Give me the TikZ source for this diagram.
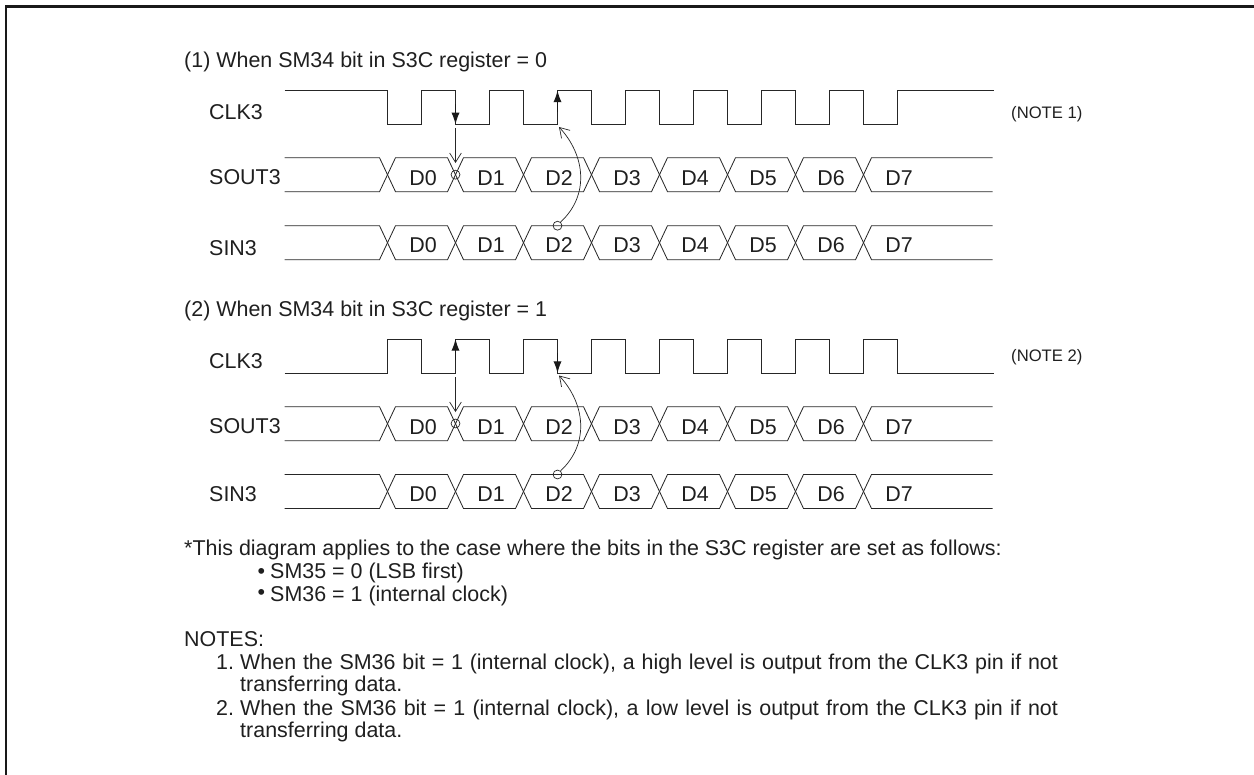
\documentclass[tikz,border=0pt]{standalone}
\usepackage{fontspec}
\setmainfont{Liberation Sans}
\usepackage{tikz}
\usetikzlibrary{arrows.meta}
\newcommand{\fitline}[1]{\makebox[24.53cm][s]{#1}}
\tikzset{
  sigline/.style={draw=black!85,line width=0.7pt},
  frameline/.style={draw=black!90,line width=2pt},
  txt/.style={anchor=base west,inner sep=0pt,text=black!88,font=\fontsize{18.3}{21}\selectfont},
  notetxt/.style={txt,font=\fontsize{14.2}{17}\selectfont},
  datatxt/.style={anchor=base,inner sep=0pt,text=black!88,font=\fontsize{18.3}{21}\selectfont},
  ring/.style={circle,draw=black!85,line width=0.6pt,inner sep=0pt,minimum size=7.6pt},
  edgetip/.style={draw=black!90,line width=1pt,-{Latex[length=10pt,width=7pt]}},
  opentip/.style={draw=black!85,line width=0.6pt,-{Straight Barb[length=8pt,width=10pt]}}
}
\begin{document}
\begin{tikzpicture}[x=0.03cm,y=-0.03cm]
\useasboundingbox (0,0) rectangle (1254,774);
\draw[frameline] (6,775) -- (6,6.5) -- (1254,6.5);
\node[txt] (headone) at (184,67.5) {(1) When SM34 bit in S3C register = 0};
\node[txt] (headtwo) at (184,316.7) {(2) When SM34 bit in S3C register = 1};
\node[txt] (clkone) at (209,119) {CLK3};
\node[txt] (soutone) at (209,184.3) {SOUT3};
\node[txt] (sinone) at (209,255) {SIN3};
\node[txt] (clktwo) at (209,368.3) {CLK3};
\node[txt] (souttwo) at (209,433.7) {SOUT3};
\node[txt] (sintwo) at (209,501) {SIN3};
\node[notetxt] (noteone) at (1011,118) {(NOTE 1)};
\node[notetxt] (notetwo) at (1011,361.7) {(NOTE 2)};
\foreach \hi/\lo/\last in {90.5/124.3/90.5,373/339/373} {
  \draw[sigline] (284.5,\hi) -- (387.5,\hi);
  \foreach \k in {0,...,7}
    \draw[sigline] (387.5+68*\k,\hi) -- (387.5+68*\k,\lo) -- (421.5+68*\k,\lo) -- (421.5+68*\k,\hi) -- (455.5+68*\k,\hi);
  \draw[sigline] (931.5,\last) -- (993.5,\last);
}
\foreach \t/\b in {157.7/185.3,225.7/252.7,406.7/434,474.5/501.7} {
  \draw[sigline] (284.5,\t) -- (379.5,\t) -- (387.5,\t+17) -- (379.5,\t+34) -- (284.5,\t+34);
  \foreach \k in {0,...,6}
    \draw[sigline] (387.5+68*\k,\t+17) -- (395.5+68*\k,\t) -- (447.5+68*\k,\t) -- (455.5+68*\k,\t+17) -- (447.5+68*\k,\t+34) -- (395.5+68*\k,\t+34) -- cycle;
  \draw[sigline] (992.5,\t) -- (871.5,\t) -- (863.5,\t+17) -- (871.5,\t+34) -- (992.5,\t+34);
  \foreach \k in {0,...,7}
    \node[datatxt] (d\k-\t) at (423+68*\k,\b) {D\k};
}
\node[ring] (xoutone) at (455.5,174.7) {};
\node[ring] (xintwo) at (557.5,225.7) {};
\node[ring] (youtone) at (455.5,423.5) {};
\node[ring] (yintwo) at (557.5,474.5) {};
\coordinate (fallone) at (455.5,104);
\coordinate (falloneend) at (455.5,124.3);
\coordinate (riseone) at (557.5,112);
\coordinate (riseoneend) at (557.5,90.5);
\coordinate (dropone) at (455.5,128);
\coordinate (droponeend) at (455.5,163);
\coordinate (captone) at (559,127);
\coordinate (risetwo) at (455.5,360);
\coordinate (risetwoend) at (455.5,339);
\coordinate (falltwo) at (557.5,352.5);
\coordinate (falltwoend) at (557.5,373);
\coordinate (droptwo) at (455.5,377);
\coordinate (droptwoend) at (455.5,412);
\coordinate (capttwo) at (559,375.5);
\draw[edgetip] (fallone) -- (falloneend);
\draw[edgetip] (riseone) -- (riseoneend);
\draw[edgetip] (risetwo) -- (risetwoend);
\draw[edgetip] (falltwo) -- (falltwoend);
\draw[opentip] (dropone) -- (droponeend);
\draw[opentip] (droptwo) -- (droptwoend);
\draw[opentip] (xintwo.50) .. controls (590,195) and (585,155) .. (captone);
\draw[opentip] (yintwo.50) .. controls (590,443.5) and (585,403.5) .. (capttwo);
\node[txt] (applies) at (184,555) {*This diagram applies to the case where the bits in the S3C register are set as follows:};
\node[txt] (dotone) at (257.5,578.3) {•};
\node[txt] (bitone) at (270,578.3) {SM35 = 0 (LSB first)};
\node[txt] (dottwo) at (257.5,599.3) {•};
\node[txt] (bittwo) at (270,601) {SM36 = 1 (internal clock)};
\node[txt] (notes) at (184,646) {NOTES:};
\node[txt] (numone) at (216,669) {1.};
\node[txt] (lineone) at (240,669) {\fitline{When the SM36 bit = 1 (internal clock), a high level is output from the CLK3 pin if not}};
\node[txt] (linetwo) at (240,691.7) {transferring data.};
\node[txt] (numtwo) at (216,715) {2.};
\node[txt] (linethree) at (240,715) {\fitline{When the SM36 bit = 1 (internal clock), a low level is output from the CLK3 pin if not}};
\node[txt] (linefour) at (240,737.7) {transferring data.};
\end{tikzpicture}
\end{document}
